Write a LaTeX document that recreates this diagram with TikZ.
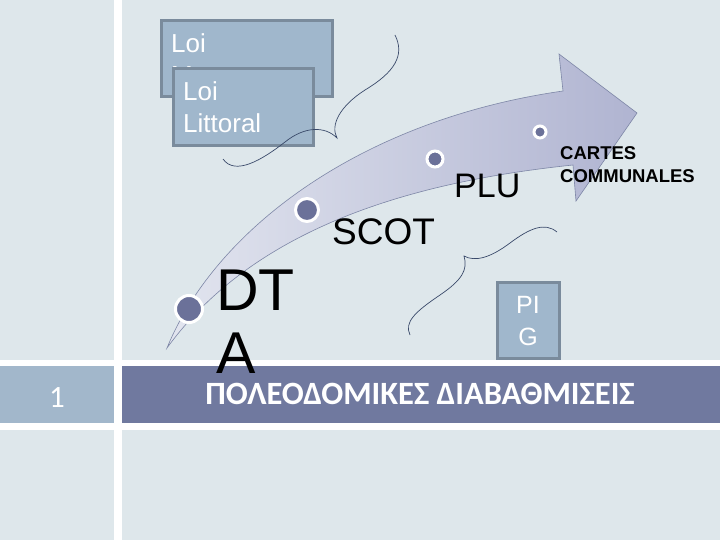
\documentclass[tikz,border=0pt]{standalone}
\usepackage{fontspec}
\setmainfont{Liberation Sans}
\newfontfamily\calib{Carlito}
\definecolor{bgc}{HTML}{DEE7EB}
\definecolor{cellc}{HTML}{A2B7CB}
\definecolor{barc}{HTML}{70799F}
\definecolor{boxf}{HTML}{A0B7CC}
\definecolor{boxd}{HTML}{7A8B9C}
\definecolor{dotc}{HTML}{6B7199}
\definecolor{arrl}{HTML}{E2E5EF}
\definecolor{arrd}{HTML}{B0B4D1}
\definecolor{arrb}{HTML}{7D86A6}
\definecolor{bracec}{HTML}{3A4A6A}
\tikzset{
  lawbox/.style={draw=boxd, line width=3pt, fill=boxf},
  dotmark/.style={circle, fill=dotc, draw=white, line width=3pt, inner sep=0pt},
  bracel/.style={draw=bracec, line width=0.7pt},
  boxtext/.style={font=\fontsize{26}{32}\selectfont, text=white, inner sep=0pt, align=left},
}
\begin{document}
\begin{tikzpicture}[x=1pt,y=-1pt]
\useasboundingbox (0,0) rectangle (720,540);
\fill[bgc] (0,0) rectangle (720,540);
% white stripes
\fill[white] (114,0) rectangle (122,540);
\fill[white] (0,360) rectangle (720,366);
\fill[white] (0,423) rectangle (720,430);
% title band
\fill[cellc] (0,366) rectangle (114,423);
\fill[barc] (122,366) rectangle (720,423);
\node[font=\calib\fontsize{31}{33}\selectfont, text=white, inner sep=0pt, anchor=base] (num) at (57,407) {1};
\node[font=\calib\bfseries\fontsize{32.5}{34}\selectfont, text=white, inner sep=0pt, anchor=base] (title) at (420,404) {ΠΟΛΕΟΔΟΜΙΚΕΣ ΔΙΑΒΑΘΜΙΣΕΙΣ};
% law boxes
\begin{scope}
\draw[lawbox] (161,21) rectangle (332,97);
\clip (161,21) rectangle (332,97);
\node[boxtext, anchor=base west] (montagne) at (171,85) {Loi\\Montagne};
\end{scope}
\draw[lawbox] (173,69) rectangle (313,146);
\node[boxtext, anchor=base west] (littoral) at (183,133) {Loi\\Littoral};
% braces
\draw[bracel] (395,35) .. controls (405,55) and (395,72) .. (365,90)
   .. controls (340,106) and (330,125) .. (337,138)
   .. controls (325,126) and (305,126) .. (285,142)
   .. controls (262,160) and (235,176) .. (223,159);
\draw[bracel] (557,232) .. controls (545,222) and (530,228) .. (510,243)
   .. controls (490,258) and (475,262) .. (464,256)
   .. controls (468,270) and (462,280) .. (440,295)
   .. controls (415,312) and (404,322) .. (410,335);
% curved arrow
\shade[left color=arrl, right color=arrd, draw=arrb, line width=0.6pt]
  (167,348) .. controls (215,230) and (360,120) .. (563,91)
  -- (559,54) -- (637,113) -- (576,201) -- (573,165)
  .. controls (430,180) and (260,220) .. (167,348) -- cycle;
% dots
\node[dotmark, minimum size=27pt] (dta) at (189,309) {};
\node[dotmark, minimum size=23pt] (scot) at (307,210) {};
\node[dotmark, minimum size=16pt] (plu) at (435,159) {};
\node[dotmark, minimum size=12pt] (cartes) at (540,132) {};
% labels
\node[font=\fontsize{59}{63}\selectfont, inner sep=0pt, align=left, anchor=base west] (dtalab) at (216,373) {DT\\A};
\node[font=\fontsize{37}{40}\selectfont, inner sep=0pt, anchor=base west] (scotlab) at (332,244) {SCOT};
\node[font=\fontsize{34}{36}\selectfont, inner sep=0pt, anchor=base west] (plulab) at (454,198) {PLU};
\node[font=\bfseries\fontsize{18.5}{23}\selectfont, inner sep=0pt, align=left, anchor=base west] (carteslab) at (560,183) {CARTES\\COMMUNALES};
% PIG box
\draw[lawbox] (497,282) rectangle (559,358);
\node[font=\fontsize{25}{32}\selectfont, text=white, inner sep=0pt, align=center, anchor=base] (pig) at (528,345) {PI\\G};
\end{tikzpicture}
\end{document}
